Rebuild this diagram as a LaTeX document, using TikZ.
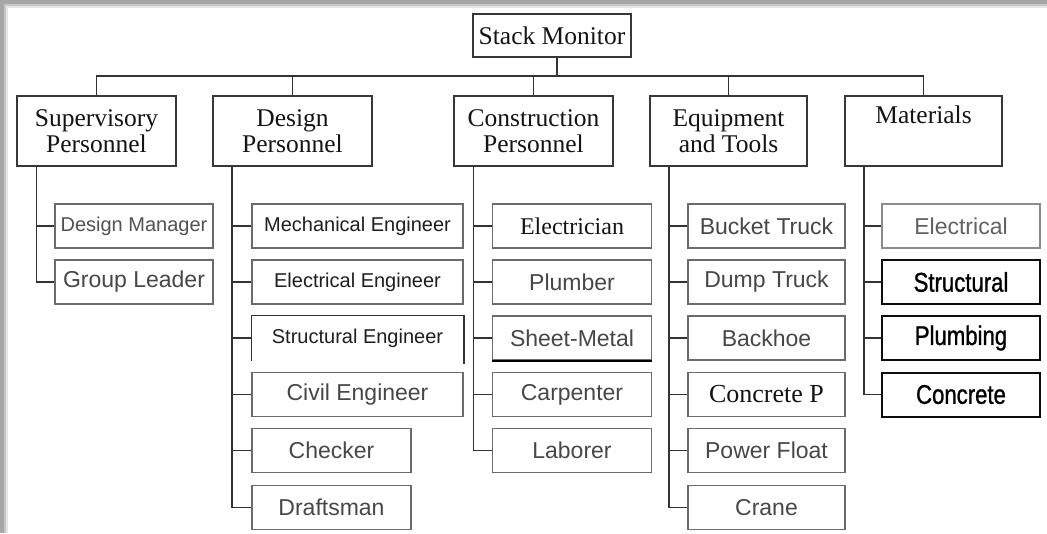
\documentclass[tikz,border=0pt]{standalone}
\usepackage{fontspec}
\setmainfont{Liberation Serif}
\setsansfont{Liberation Sans}
\newfontfamily\narrowsans[FakeStretch=0.82,FakeBold=1]{Liberation Sans}
\begin{document}
\begin{tikzpicture}[x=1pt,y=-1pt,
  conn/.style={draw=black!80, line width=1.5pt},
  topbox/.style={draw=black!78, line width=1.5pt, inner sep=0pt, align=center,
     font=\fontsize{25.5}{26.5}\selectfont, text=black!92, minimum height=70pt},
  kid/.style={draw=black!58, line width=1.5pt, inner sep=0pt, minimum height=44pt,
     font=\sffamily\fontsize{23}{24}\selectfont, text=black!72},
  small/.style={font=\sffamily\fontsize{20}{21}\selectfont},
  serifkid/.style={font=\fontsize{24}{25}\selectfont, text=black!92},
  dark/.style={draw=black!95, line width=2pt, text=black, font=\narrowsans\fontsize{27}{28}\selectfont}
]
\useasboundingbox (0,0) rectangle (1047,533);
% background with shadow
\fill[black!35] (0,0) rectangle (1047,533);
\fill[black!22] (4,4) rectangle (1047,533);
\fill[black!10] (6,6) rectangle (1047,533);
\fill[white] (8,8) rectangle (1047,533);

% root and top level
\node[topbox, minimum width=158pt, minimum height=43pt] (sm) at (552,35.5) {Stack Monitor};
\node[topbox, minimum width=159pt] (sup) at (96.5,131) {Supervisory\\Personnel};
\node[topbox, minimum width=159pt] (des) at (292.5,131) {Design\\Personnel};
\node[topbox, minimum width=159pt] (con) at (533.5,131) {Construction\\Personnel};
\node[topbox, minimum width=157pt] (equ) at (728.5,131) {Equipment\\and Tools};
\node[topbox, minimum width=157pt] (mat) at (923.5,131) {Materials\\\phantom{g}};

\coordinate (busy) at (0,76);
\coordinate (smx) at ([xshift=5pt]sm.south);
\draw[conn] (smx) -- (smx |- busy);
\draw[conn] (sup.north) -- (sup.north |- busy) -- (mat.north |- busy) -- (mat.north);
\draw[conn] (des.north) -- (des.north |- busy);
\draw[conn] (con.north) -- (con.north |- busy);
\draw[conn] (equ.north) -- (equ.north |- busy);

% Supervisory children
\node[kid, small, minimum width=158pt, text=black!68] (dm) at (134,226) {Design Manager};
\node[kid, minimum width=158pt] (gl) at (134,282) {Group Leader};
% Design children
\node[kid, small, minimum width=211pt, text=black!88] (mech) at (357.5,226) {Mechanical Engineer};
\node[kid, small, minimum width=211pt, text=black!88] (elen) at (357.5,282) {Electrical Engineer};
\node[kid, small, minimum width=211pt, text=black!88, draw=none] (stru) at (357.5,338) {Structural Engineer};
\node[kid, minimum width=211pt] (civ) at (357.5,394.5) {Civil Engineer};
\node[kid, minimum width=159pt] (chk) at (331.5,450.5) {Checker};
\node[kid, minimum width=159pt] (dft) at (331.5,507.5) {Draftsman};
% Construction children
\node[kid, serifkid, minimum width=159pt] (elc) at (572,226) {Electrician};
\node[kid, minimum width=159pt] (plm) at (572,282) {Plumber};
\node[kid, minimum width=159pt] (shm) at (572,338) {Sheet-Metal};
\node[kid, minimum width=159pt] (car) at (572,394.5) {Carpenter};
\node[kid, minimum width=159pt] (lab) at (572,450.5) {Laborer};
% Equipment children
\node[kid, minimum width=157pt] (buc) at (766.5,226) {Bucket Truck};
\node[kid, minimum width=157pt] (dmp) at (766.5,282) {Dump Truck};
\node[kid, minimum width=157pt] (bkh) at (766.5,338) {Backhoe};
\node[kid, serifkid, font=\fontsize{26}{27}\selectfont, minimum width=157pt] (cpm) at (766.5,394.5) {Concrete P};
\node[kid, minimum width=157pt] (pwf) at (766.5,450.5) {Power Float};
\node[kid, minimum width=157pt] (crn) at (766.5,507.5) {Crane};
% Materials children
\node[kid, minimum width=158pt, draw=black!45, text=black!62] (mel) at (961,226) {Electrical};
\node[kid, dark, minimum width=158pt] (mst) at (961,282) {Structural};
\node[kid, dark, minimum width=158pt] (mpl) at (961,338) {Plumbing};
\node[kid, dark, minimum width=158pt] (mco) at (961,394.5) {Concrete};

% special borders
\draw[draw=black!80, line width=1.5pt] (stru.south west) -- (stru.north west) -- (stru.north east) -- ([yshift=-3pt]stru.south east);
\draw[black, line width=2.4pt] (shm.south west) -- (shm.south east);

% spines
\coordinate (supS) at ([xshift=20pt]sup.south west);
\coordinate (desS) at ([xshift=19.5pt]des.south west);
\coordinate (conS) at ([xshift=20pt]con.south west);
\coordinate (equS) at ([xshift=19.5pt]equ.south west);
\coordinate (matS) at ([xshift=19.5pt]mat.south west);

\draw[conn] (supS) |- (gl.west);
\draw[conn] (dm.west) -- (dm.west -| supS);

\draw[conn] (desS) |- (dft.west);
\foreach \n in {mech,elen,stru,civ,chk} \draw[conn] (\n.west) -- (\n.west -| desS);

\draw[conn] (conS) |- (lab.west);
\foreach \n in {elc,plm,shm,car} \draw[conn] (\n.west) -- (\n.west -| conS);

\draw[conn] (equS) |- (crn.west);
\foreach \n in {buc,dmp,bkh,cpm,pwf} \draw[conn] (\n.west) -- (\n.west -| equS);

\draw[conn] (matS) |- (mco.west);
\foreach \n in {mel,mst,mpl} \draw[conn] (\n.west) -- (\n.west -| matS);
\end{tikzpicture}
\end{document}
